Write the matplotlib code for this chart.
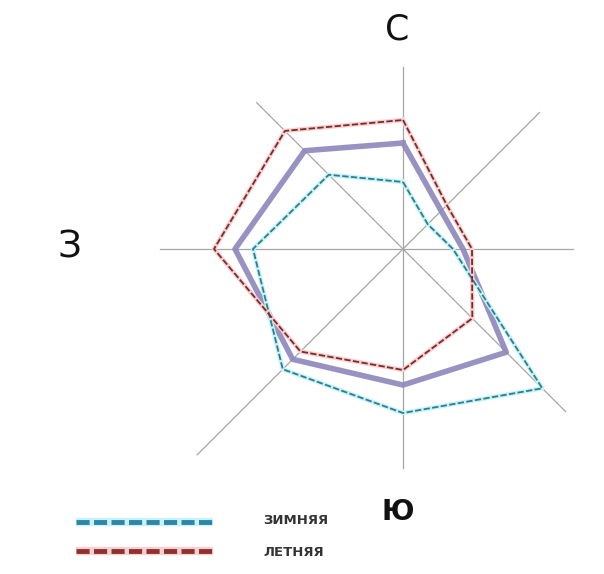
import numpy as np
import matplotlib
matplotlib.use("Agg")
import matplotlib.pyplot as plt

# directions: С, СВ, В, ЮВ, Ю, ЮЗ, З, СЗ
directions = ["С", "СВ", "В", "ЮВ", "Ю", "ЮЗ", "З", "СЗ"]
angles_deg = [90, 45, 0, -45, -90, -135, 180, 135]

# repeatability of winds, %
winter = [6.7, 3.5, 5.0, 19.7, 16.4, 17.0, 15.0, 10.5]
summer = [12.9, 6.2, 6.9, 9.8, 12.1, 14.5, 18.9, 16.7]
year = [10.6, 5.4, 6.0, 14.6, 13.6, 15.6, 16.8, 13.9]

# length of the drawn direction lines
axis_len = [18.2, 19.3, 17.0, 23.0, 21.9, 29.1, 24.3, 20.7]

legend_labels = ["ЗИМНЯЯ", "ЛЕТНЯЯ"]

plt.rcParams['font.family'] = ['DejaVu Sans']

fig = plt.figure(figsize=(6.04, 5.74), dpi=100)
ax = fig.add_axes([0, 0, 1, 1])
ax.set_xlim(-40.3, 20.1)
ax.set_ylim(-32.5, 24.9)
ax.set_aspect('equal')
ax.axis('off')

a = np.radians(angles_deg)

# direction lines
for ang, L in zip(a, axis_len):
    ax.plot([0, L * np.cos(ang)], [0, L * np.sin(ang)], color='#a6a6a6', lw=0.9, zorder=1)


def closed(vals):
    r = np.array(vals + vals[:1])
    t = np.append(a, a[0])
    return r * np.cos(t), r * np.sin(t)


# year average - thick lavender
x, y = closed(year)
ax.plot(x, y, color='#8c86bb', lw=4, alpha=0.9, zorder=2)

# winter - teal dashed with light halo
x, y = closed(winter)
ax.plot(x, y, color='#c8f2f8', lw=3.2, zorder=3)
ax.plot(x, y, color='#2a7f8e', lw=1.3, dashes=(3.5, 1.3), zorder=4)

# summer - dark red dashed with pink halo
x, y = closed(summer)
ax.plot(x, y, color='#f8d0d0', lw=3.2, zorder=3)
ax.plot(x, y, color='#7a2a2a', lw=1.3, dashes=(3.5, 1.3), zorder=4)

# compass letters
ax.text(-0.6, 22.0, "С", fontsize=25, ha='center', va='center', color='#111111')
ax.text(-33.3, 0.2, "З", fontsize=27, ha='center', va='center', color='#111111')
ax.text(-0.5, -26.3, "Ю", fontsize=20, fontweight='bold', ha='center', va='center', color='#111111')

# legend drawn by hand
ax.plot([-32.7, -19.0], [-27.3, -27.3], color='#c8f2f8', lw=6, solid_capstyle='butt')
ax.plot([-32.7, -19.0], [-27.3, -27.3], color='#2b86a8', lw=3.5, dashes=(2.7, 0.9))
ax.plot([-32.7, -19.0], [-30.2, -30.2], color='#f8d0d0', lw=6, solid_capstyle='butt')
ax.plot([-32.7, -19.0], [-30.2, -30.2], color='#923030', lw=3.5, dashes=(2.7, 0.9))
ax.text(-14.0, -27.2, legend_labels[0], fontsize=9.5, fontweight='bold', ha='left', va='center',
        color='#333333')
ax.text(-14.0, -30.3, legend_labels[1], fontsize=9.5, fontweight='bold', ha='left', va='center',
        color='#333333')

fig.savefig("out.png", dpi=100, facecolor='white')
